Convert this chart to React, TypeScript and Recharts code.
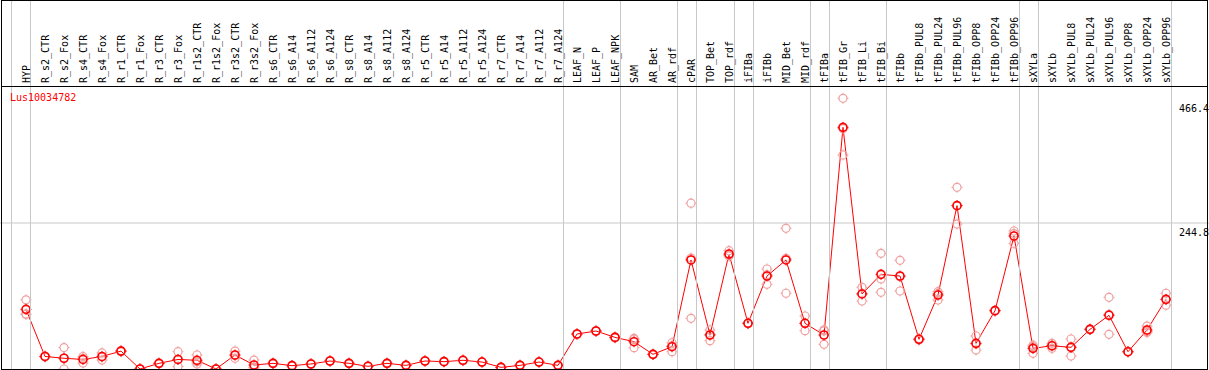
import React from "react";
import { ComposedChart, Line, XAxis, YAxis, ReferenceLine } from "recharts";

const LABELS = [
  "HYP", "R_s2_CTR", "R_s2_Fox", "R_s4_CTR", "R_s4_Fox", "R_r1_CTR", "R_r1_Fox",
  "R_r3_CTR", "R_r3_Fox", "R_r1s2_CTR", "R_r1s2_Fox", "R_r3s2_CTR", "R_r3s2_Fox",
  "R_s6_CTR", "R_s6_A14", "R_s6_A112", "R_s6_A124", "R_s8_CTR", "R_s8_A14",
  "R_s8_A112", "R_s8_A124", "R_r5_CTR", "R_r5_A14", "R_r5_A112", "R_r5_A124",
  "R_r7_CTR", "R_r7_A14", "R_r7_A112", "R_r7_A124", "LEAF_N", "LEAF_P", "LEAF_NPK",
  "SAM", "AR_Bet", "AR_rdf", "cPAR", "TOP_Bet", "TOP_rdf", "iFIBa", "iFIBb",
  "MID_Bet", "MID_rdf", "tFIBa", "tFIB_Gr", "tFIB_Li", "tFIB_Bi", "tFIBb",
  "tFIBb_PUL8", "tFIBb_PUL24", "tFIBb_PUL96", "tFIBb_OPP8", "tFIBb_OPP24",
  "tFIBb_OPP96", "sXYLa", "sXYLb", "sXYLb_PUL8", "sXYLb_PUL24", "sXYLb_PUL96",
  "sXYLb_OPP8", "sXYLb_OPP24", "sXYLb_OPP96",
];

// mean expression per sample
const MEAN = [
  100, 21, 18, 16, 21, 30, 0, 9.5, 16, 14.6, 0, 23.5, 6.7,
  9.5, 5.6, 8.4, 13.4, 9.5, 4.5, 9.5, 6.1, 13.4, 12.3, 14.6, 11.7,
  2.8, 6.1, 11.7, 6.1, 58.7, 63.7, 53,
  45.8, 24.6, 37.4, 182.8, 57, 192.8, 76.6, 155.9,
  182.8, 76.6, 57, 405.2, 125.8, 158.7, 155.9,
  49.8, 124, 273.9, 43, 97.8, 223,
  34.6, 39, 36.3, 66.5, 90, 29, 65.4, 116.8,
];

// replicates
const REP1 = [
  116, 22, 36, 21, 27, 31, 0, 10, 29, 23.5, 0, 30, 15,
  10, 6, 9, 14, 10, 5, 10, 6.5, 14, 13, 15, 12,
  3, 6.5, 12, 6.5, 59, 64, 54,
  51.4, 25, 44, 278, 65.4, 198.4, 77, 167.7,
  235.9, 88.9, 64, 453.9, 137, 194, 182.2,
  51, 129.6, 304.6, 55.3, 98.5, 231.4,
  40, 43, 50.3, 67, 120.2, 29.5, 72, 127,
];
const REP2 = [
  92, 20, 18, 10, 15, 29, 0, 9, 4, 8.4, 0, 18, 3,
  9, 5, 8, 13, 9, 4, 9, 6, 13, 12, 14, 11.5,
  2.5, 6, 11.5, 6, 58, 63, 52,
  35.8, 24, 29, 186, 47.5, 189.5, 76, 142,
  127, 64.2, 41.4, 358.8, 114, 151, 130.8,
  48.5, 115.7, 243, 31.8, 97, 210.7,
  26.3, 34.6, 21.8, 66, 58.2, 28.5, 61, 107,
];
const REP3 = [
  92, 21, 0, 18, 20, 30, 0, 9.5, 16, 12, 0, 23, 2,
  9.5, 5.6, 8.4, 13.4, 9.5, 4.5, 9.5, 6.1, 13.4, 12.3, 14.6, 11.7,
  2.8, 6.1, 11.7, 6.1, 58.7, 63.7, 53,
  50, 24.6, 39, 85, 58, 190.5, 76.6, 158,
  185.5, 76.7, 65.6, 402.9, 126.4, 128.6, 154.7,
  49.8, 126.7, 274, 42, 97.8, 227,
  37.5, 39.4, 36.8, 66.5, 91.6, 29, 63, 116.4,
];

// group separators: drawn right after these sample indices
const SEPARATE_AFTER = [-1, 0, 28, 31, 34, 35, 37, 38, 41, 42, 45, 52, 53, 60];
const Y_TICKS = [0, 244.8, 466.4];
const Y_TOP = 474.5;

const TITLE = "Lus10034782";
const FONT = "'DejaVu Sans Mono', monospace";
const RED = "#ff0000";
const PINK = "#f0a0a0";
const GRID = "#c8c8c8";

const W = 1209;
const H = 370;
const HEADER = 86;
const STEP = 19;
const FIRST_X = 26;

const data = LABELS.map((name, i) => ({
  idx: i,
  name,
  mean: MEAN[i],
  r1: REP1[i],
  r2: REP2[i],
  r3: REP3[i],
}));

function ringDot(color: string, width: number) {
  return (props: any) => {
    const { cx, cy, index } = props;
    if (cx == null || cy == null) return <g key={index} />;
    return (
      <g key={index}>
        <circle cx={cx} cy={cy} r={4} fill="none" stroke={color} strokeWidth={width} />
        <path
          d={`M${cx} ${cy - 5.5}v1.5M${cx} ${cy + 4}v1.5M${cx - 5.5} ${cy}h1.5M${cx + 4} ${cy}h1.5`}
          stroke={color}
          strokeWidth={1}
        />
      </g>
    );
  };
}

const MeanDot = ringDot(RED, 1.6);
const RepDot = ringDot(PINK, 1.2);

// sample label plus the gray group separators running through the whole frame
function SampleTick(props: any) {
  const { x, payload } = props;
  const i = payload.value;
  const seps = SEPARATE_AFTER.filter((s) => s === i || (i === 0 && s === -1));
  return (
    <g>
      {seps.map((s) => {
        const sx = Math.round(x + (s - i) * STEP + 4.5) + 0.5;
        return <line key={s} x1={sx} x2={sx} y1={0} y2={H - 1} stroke={GRID} strokeWidth={1} />;
      })}
      <text
        x={x}
        y={83}
        dy="0.35em"
        transform={`rotate(-90 ${x} 83)`}
        fontSize={10}
        fontFamily={FONT}
        fill="#000"
      >
        {LABELS[i]}
      </text>
    </g>
  );
}

function ValueTick(props: any) {
  const { y, payload } = props;
  const base = Math.min(Math.max(y + 13, 111.5), 366.5);
  return (
    <text x={1179} y={base} fontSize={10} fontFamily={FONT} fill="#000">
      {payload.value}
    </text>
  );
}

export default function App() {
  const xDomain = [-FIRST_X / STEP, (W - FIRST_X) / STEP];
  return (
    <div style={{ position: "absolute", left: 0, top: 0, width: W, height: H, background: "#fff" }}>
      <ComposedChart
        width={W}
        height={H}
        data={data}
        margin={{ top: 0, right: 0, bottom: 1, left: 0 }}
      >
        <XAxis
          dataKey="idx"
          type="number"
          orientation="top"
          height={HEADER}
          domain={xDomain}
          allowDataOverflow
          ticks={LABELS.map((_, i) => i)}
          interval={0}
          axisLine={false}
          tickLine={false}
          tick={SampleTick}
        />
        <YAxis
          type="number"
          orientation="right"
          mirror
          domain={[0, Y_TOP]}
          allowDataOverflow
          ticks={Y_TICKS}
          axisLine={false}
          tickLine={false}
          tick={ValueTick}
        />
        <ReferenceLine y={Y_TICKS[1]} stroke={GRID} strokeWidth={1} />
        <Line dataKey="r1" stroke="none" dot={RepDot} activeDot={false} isAnimationActive={false} />
        <Line dataKey="r2" stroke="none" dot={RepDot} activeDot={false} isAnimationActive={false} />
        <Line dataKey="r3" stroke="none" dot={RepDot} activeDot={false} isAnimationActive={false} />
        <Line
          dataKey="mean"
          type="linear"
          stroke={RED}
          strokeWidth={1}
          dot={MeanDot}
          activeDot={false}
          isAnimationActive={false}
        />
      </ComposedChart>
      <svg
        width={W}
        height={H}
        style={{ position: "absolute", left: 0, top: 0, pointerEvents: "none" }}
      >
        <rect x={1.5} y={0.5} width={1206} height={369} fill="none" stroke="#000" strokeWidth={1} />
        <line x1={1} x2={1208} y1={HEADER + 0.5} y2={HEADER + 0.5} stroke="#000" strokeWidth={1} />
        <text x={10} y={100.5} fontSize={10} fontFamily={FONT} fill={RED}>
          {TITLE}
        </text>
      </svg>
    </div>
  );
}
